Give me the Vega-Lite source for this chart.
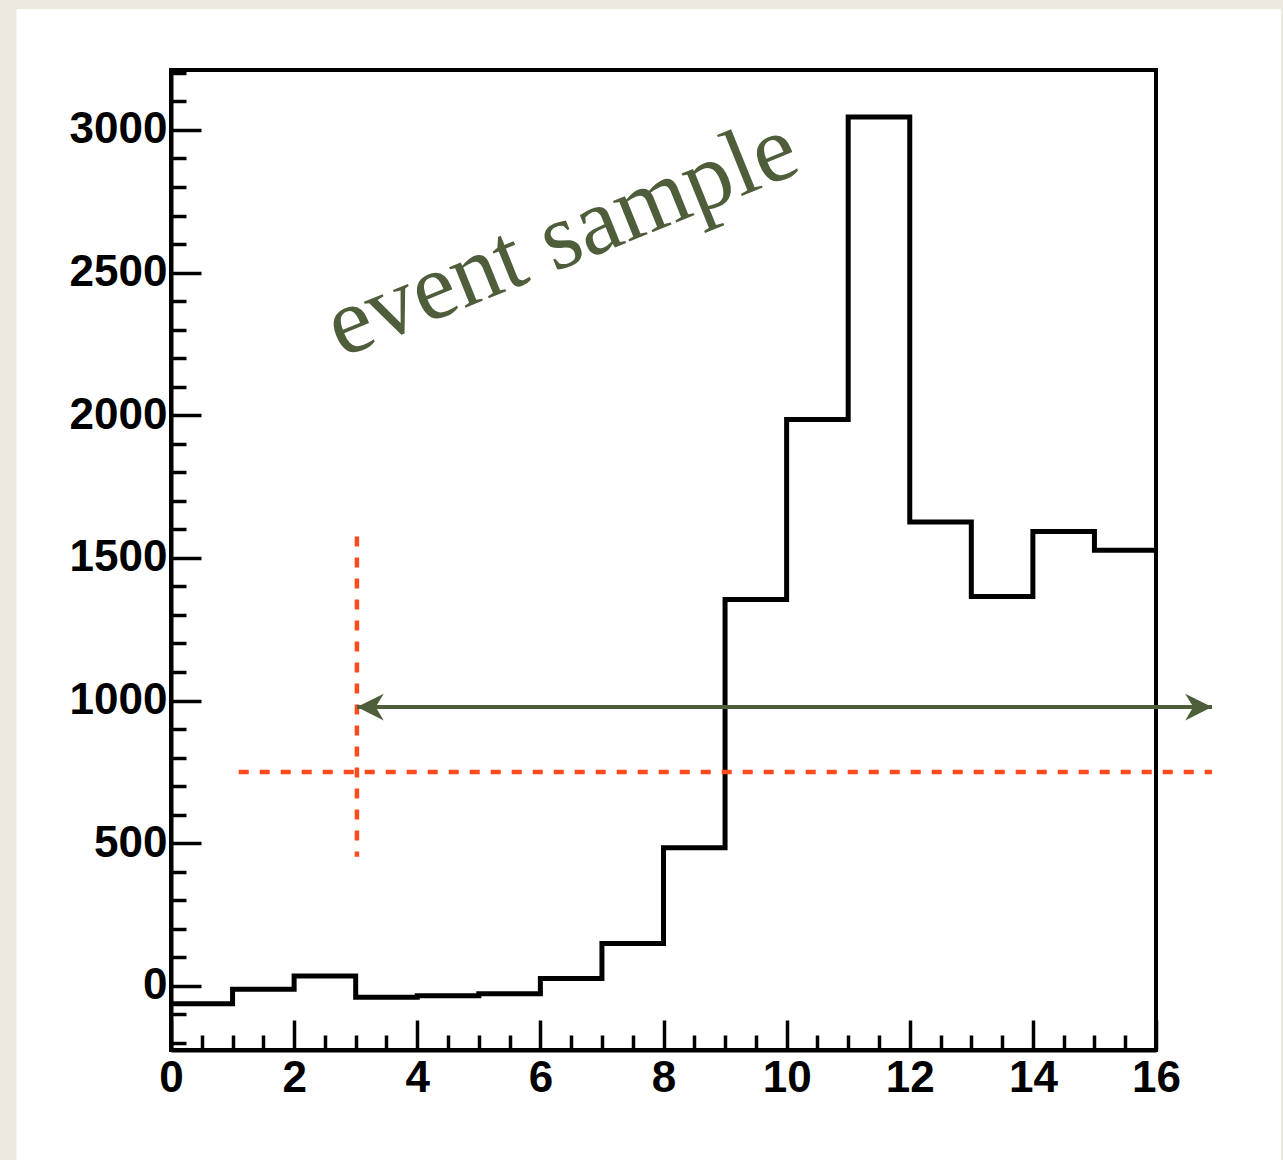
{
  "$schema": "https://vega.github.io/schema/vega-lite/v6.json",
  "autosize": {"type": "none"},
  "width": 985,
  "height": 980,
  "padding": {"left": 171, "top": 70, "right": 127, "bottom": 110},
  "background": "#ece9de",
  "config": {
    "view": {"stroke": null},
    "axis": {"grid": false, "zindex": 1}
  },
  "datasets": {
    "panel": [{"x": -2.51, "x2": 18.03, "y": 3423, "y2": -700}],
    "frame": [{"x": 0, "x2": 16, "y": -225, "y2": 3210}],
    "hist": [
      {"x": 0, "y": -63}, {"x": 1, "y": -12}, {"x": 2, "y": 34}, {"x": 3, "y": -40},
      {"x": 4, "y": -35}, {"x": 5, "y": -28}, {"x": 6, "y": 26}, {"x": 7, "y": 148},
      {"x": 8, "y": 484}, {"x": 9, "y": 1354}, {"x": 10, "y": 1985}, {"x": 11, "y": 3045},
      {"x": 12, "y": 1626}, {"x": 13, "y": 1365}, {"x": 14, "y": 1592}, {"x": 15, "y": 1527},
      {"x": 16, "y": 1527}
    ],
    "vcut": [{"x": 3.02, "y": 1575, "y2": 452}],
    "hcut": [{"x": 1.1, "x2": 16.91, "y": 749}],
    "arrow": [{"x": 3.02, "x2": 16.91, "y": 977}],
    "headL": [{"x": 3.02, "y": 977}],
    "headR": [{"x": 16.91, "y": 977}],
    "label": [{"x": 6.52, "y": 2528, "text": "event sample"}]
  },
  "encoding": {
    "x": {
      "field": "x", "type": "quantitative",
      "scale": {"domain": [0, 16], "nice": false, "zero": false},
      "axis": {
        "title": null, "zindex": 1,
        "values": [0,0.5,1,1.5,2,2.5,3,3.5,4,4.5,5,5.5,6,6.5,7,7.5,8,8.5,9,9.5,10,10.5,11,11.5,12,12.5,13,13.5,14,14.5,15,15.5,16],
        "labelExpr": "datum.value % 2 === 0 ? format(datum.value, 'd') : ''",
        "tickSize": {"condition": {"test": "datum.value % 2 === 0", "value": -30}, "value": -15},
        "tickWidth": 3.5, "tickColor": "black",
        "domainColor": "black", "domainWidth": 4,
        "labelFont": "Liberation Sans", "labelFontWeight": "bold", "labelFontSize": 44,
        "labelColor": "black", "labelPadding": 36, "labelFlush": false, "labelOverlap": false
      }
    },
    "y": {
      "field": "y", "type": "quantitative",
      "scale": {"domain": [-225, 3210], "nice": false, "zero": false},
      "axis": {
        "title": null, "zindex": 1,
        "values": [-200,-100,0,100,200,300,400,500,600,700,800,900,1000,1100,1200,1300,1400,1500,1600,1700,1800,1900,2000,2100,2200,2300,2400,2500,2600,2700,2800,2900,3000,3100,3200],
        "labelExpr": "datum.value % 500 === 0 ? format(datum.value, 'd') : ''",
        "tickSize": {"condition": {"test": "datum.value % 500 === 0", "value": -30}, "value": -15},
        "tickWidth": 3.5, "tickColor": "black",
        "domainColor": "black", "domainWidth": 4,
        "labelFont": "Liberation Sans", "labelFontWeight": "bold", "labelFontSize": 44,
        "labelColor": "black", "labelPadding": 34, "labelFlush": false, "labelOverlap": false
      }
    }
  },
  "layer": [
    {
      "data": {"name": "panel"},
      "mark": {"type": "rect", "color": "white", "clip": false},
      "encoding": {"x2": {"field": "x2"}, "y2": {"field": "y2"}}
    },
    {
      "data": {"name": "frame"},
      "mark": {"type": "rect", "filled": false, "stroke": "black", "strokeWidth": 4, "clip": false},
      "encoding": {"x2": {"field": "x2"}, "y2": {"field": "y2"}}
    },
    {
      "data": {"name": "hist"},
      "mark": {"type": "line", "interpolate": "step-after", "color": "black", "strokeWidth": 5},
      "encoding": {}
    },
    {
      "data": {"name": "hcut"},
      "mark": {"type": "rule", "color": "#ff4a1c", "strokeWidth": 4.5, "strokeDash": [10, 11]},
      "encoding": {"x2": {"field": "x2"}}
    },
    {
      "data": {"name": "vcut"},
      "mark": {"type": "rule", "color": "#ff4a1c", "strokeWidth": 4.5, "strokeDash": [10, 11]},
      "encoding": {"y2": {"field": "y2"}}
    },
    {
      "data": {"name": "arrow"},
      "mark": {"type": "rule", "color": "#4e5e3b", "strokeWidth": 4},
      "encoding": {"x2": {"field": "x2"}}
    },
    {
      "data": {"name": "headL"},
      "mark": {"type": "point", "shape": "M 0 0 L 2 -1 L 1.4 0 L 2 1 Z", "size": 720, "filled": true, "color": "#4e5e3b", "opacity": 1},
      "encoding": {}
    },
    {
      "data": {"name": "headR"},
      "mark": {"type": "point", "shape": "M 0 0 L -2 -1 L -1.4 0 L -2 1 Z", "size": 720, "filled": true, "color": "#4e5e3b", "opacity": 1},
      "encoding": {}
    },
    {
      "data": {"name": "label"},
      "mark": {"type": "text", "font": "Liberation Serif", "fontSize": 95, "angle": 338, "align": "center", "baseline": "alphabetic", "color": "#4e5e3b"},
      "encoding": {"text": {"field": "text"}}
    }
  ]
}
